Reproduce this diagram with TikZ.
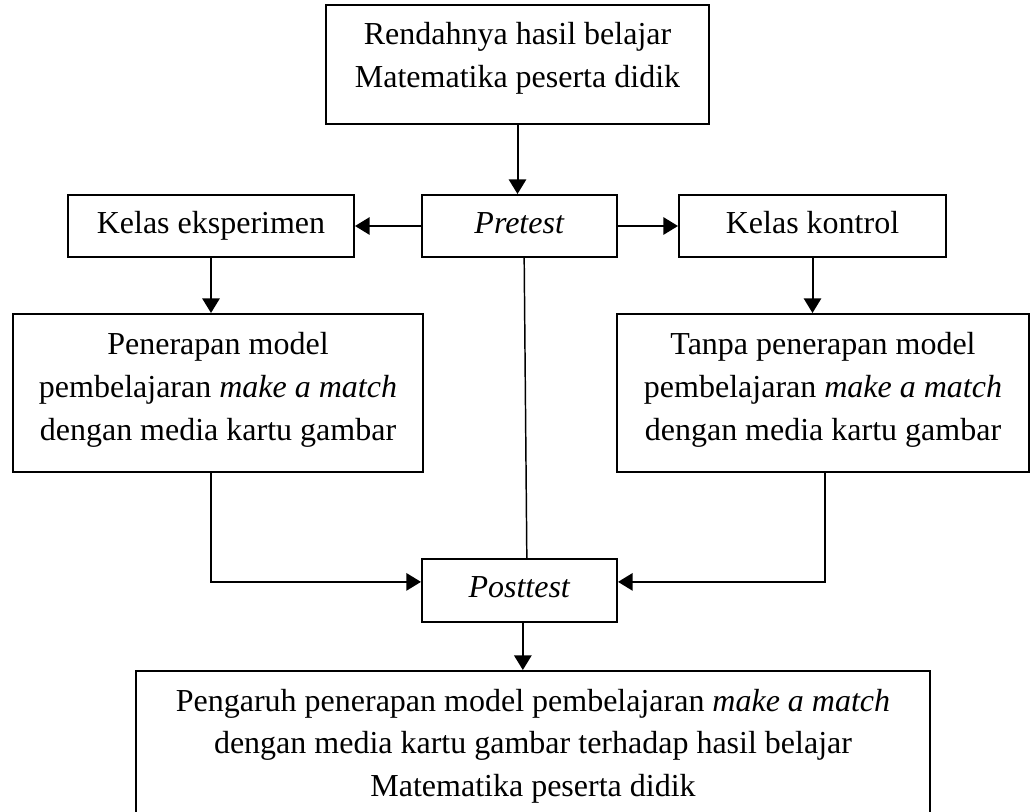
\documentclass[tikz,border=0pt]{standalone}
\usepackage{fontspec}
\setmainfont{Liberation Serif}
\usetikzlibrary{arrows.meta}

\begin{document}
\begin{tikzpicture}[x=0.75pt,y=0.75pt,yscale=-1,xscale=1,
  box/.style={draw,line width=1.5pt,inner sep=0pt,align=center,font=\fontsize{24}{32}\selectfont},
  onebox/.style={box,text height=16.5pt,text depth=6pt},
  arr/.style={line width=1.5pt,-{Triangle[length=11pt,width=13pt]}}]
%set diagram left start at 0, and has height of 811
\useasboundingbox (0,0) rectangle (1030,811);

%Shape: Rectangle [top]
\node [box,minimum width=287.25pt,minimum height=89.25pt,text depth=14pt] (rendah) at (517.5,64.5) {Rendahnya hasil belajar\\Matematika peserta didik};
%Shape: Rectangle [pretest]
\node [onebox,minimum width=146.25pt,minimum height=46.5pt] (pretest) at (519.5,226) {\textit{Pretest}};
%Shape: Rectangle [eksperimen]
\node [onebox,minimum width=214.5pt,minimum height=46.5pt] (eksp) at (211,226) {Kelas eksperimen};
%Shape: Rectangle [kontrol]
\node [onebox,minimum width=200.25pt,minimum height=46.5pt] (kontrol) at (812.5,226) {Kelas kontrol};
%Shape: Rectangle [penerapan]
\node [box,minimum width=307.5pt,minimum height=118.5pt,text depth=9.7pt] (penerapan) at (218,393) {Penerapan model\\pembelajaran \textit{make a match}\\dengan media kartu gambar};
%Shape: Rectangle [tanpa]
\node [box,minimum width=309pt,minimum height=118.5pt,text depth=9.7pt] (tanpa) at (823,393) {Tanpa penerapan model\\pembelajaran \textit{make a match}\\dengan media kartu gambar};
%Shape: Rectangle [posttest]
\node [onebox,minimum width=146.25pt,minimum height=47.25pt] (posttest) at (519.5,590.5) {\textit{Posttest}};
%Shape: Rectangle [pengaruh]
\node [box,minimum width=595.5pt,minimum height=112.5pt] (pengaruh) at (533,746) {Pengaruh penerapan model pembelajaran \textit{make a match}\\dengan media kartu gambar terhadap hasil belajar\\Matematika peserta didik};

%Straight Lines
\draw [arr] (rendah) -- (rendah |- pretest.north);
\draw [arr] (pretest) -- (eksp);
\draw [arr] (pretest) -- (kontrol);
\draw [arr] (eksp.south) -- (eksp.south |- penerapan.north);
\draw [arr] (kontrol.south) -- (kontrol.south |- tanpa.north);
\draw [line width=1.1pt] ([xshift=3.5pt]pretest.south) -- ([xshift=5.5pt]posttest.north);
%Elbow Lines
\draw [arr] (eksp.south |- penerapan.south) |- (posttest.175);
\draw [arr] ([xshift=1.5pt]tanpa.south) |- (posttest.5);
\draw [arr] ([xshift=2.5pt]posttest.south) -- ([xshift=2.5pt]posttest.south |- pengaruh.north);

\end{tikzpicture}
\end{document}
